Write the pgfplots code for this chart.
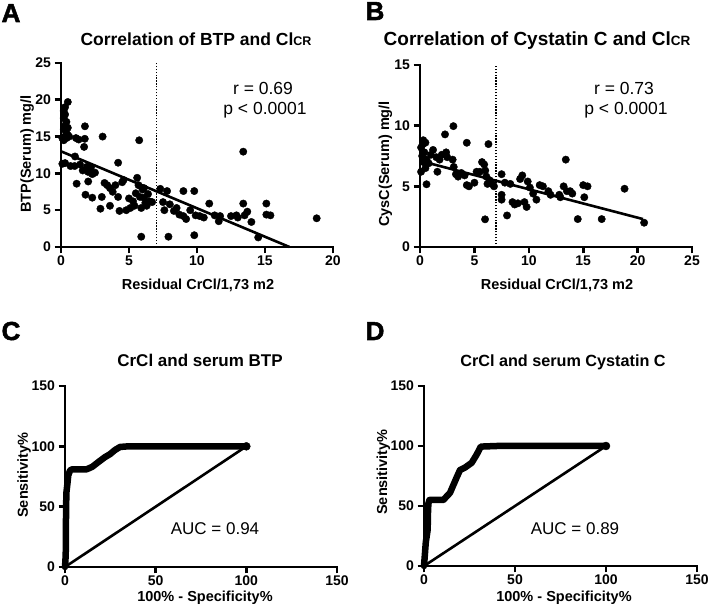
\documentclass[border=0pt]{standalone}
\usepackage{fontspec}
\setmainfont{Liberation Sans}
\newfontfamily\heavy[FakeBold=2]{Liberation Sans Bold}
\usepackage{pgfplots}
\pgfplotsset{compat=1.18}
\pgfplotstableread{
x y
0.5 19.7
0.3 19.0
0.2 18.5
0.3 18.0
0.2 17.5
0.4 17.0
0.3 16.5
0.2 16.0
0.4 15.5
0.5 15.2
0.3 15.0
0.1 14.8
0.6 15.0
0.2 14.5
0.4 14.8
0.5 16.2
0.1 11.3
0.3 11.4
0.7 11.0
1.1 14.8
1.3 14.6
1.76 16.4
1.75 14.7
1.7 13.6
3.06 15.0
5.75 14.5
4.2 11.45
13.4 12.95
1.0 11.0
1.03 12.3
1.4 11.2
1.6 10.4
1.9 10.9
2.0 10.2
2.2 10.8
1.15 8.6
2.0 8.9
2.3 9.9
2.5 10.1
1.8 7.1
2.3 6.7
2.9 5.2
3.0 6.8
3.2 8.7
3.4 8.4
3.6 5.6
3.6 8.0
3.8 7.5
4.0 8.4
4.2 6.8
4.3 4.9
4.5 8.8
4.6 9.1
4.8 5.0
5.0 6.6
5.1 5.3
5.3 6.2
5.4 5.6
5.5 7.3
5.6 9.4
5.7 8.4
5.8 6.8
5.9 5.3
6.0 7.8
6.1 8.0
6.2 6.0
6.3 5.6
6.4 7.2
6.5 6.2
6.7 6.1
5.9 1.4
6.1 6.7
7.3 7.9
7.5 6.1
7.6 5.0
7.8 7.6
7.9 1.4
8.0 5.8
8.3 4.9
8.5 5.3
8.7 4.4
9.0 4.2
9.0 7.6
9.2 3.8
9.5 5.0
9.8 7.6
9.8 1.6
9.9 4.3
10.2 4.2
10.5 4.0
10.9 5.9
11.3 4.3
11.6 3.5
11.7 4.2
12.5 4.2
12.9 4.3
13.0 4.0
13.4 5.9
13.5 4.3
13.7 4.8
14.0 3.4
14.5 1.3
15.1 5.9
15.1 4.4
15.4 4.3
18.8 3.9
}\dataA
\pgfplotstableread{
x y
3.07 9.96
2.3 9.28
4.3 8.59
6.29 8.48
0.3 8.8
0.5 8.6
0.3 8.5
0.1 8.2
0.4 7.8
0.2 7.5
0.6 7.2
0.1 6.2
0.5 6.5
0.6 5.17
0.3 7.0
0.8 6.9
1.0 7.6
1.2 8.0
1.5 7.4
1.6 6.2
1.8 7.2
2.0 7.6
2.4 7.8
2.5 7.4
3.0 7.2
3.1 6.6
3.3 6.0
3.5 5.8
3.8 6.1
4.1 5.9
4.3 5.1
4.5 5.0
5.0 5.3
5.2 6.2
5.5 6.2
5.7 7.0
5.9 6.8
6.0 6.3
6.1 5.8
6.2 5.2
6.4 5.5
6.6 5.2
6.8 5.0
5.98 2.28
7.5 6.0
7.5 4.3
7.5 3.9
7.8 5.3
8.0 2.6
8.3 5.2
8.5 3.7
8.7 3.5
9.0 3.6
9.2 5.6
9.4 5.9
9.6 3.7
9.8 3.3
9.9 5.4
10.1 4.9
10.4 4.4
10.7 3.9
11.0 5.1
11.3 5.0
11.8 4.6
12.0 4.3
12.8 4.3
12.9 4.1
13.2 5.0
13.4 7.2
13.5 4.6
13.8 4.6
14.0 4.4
14.5 2.3
15.0 5.1
15.1 4.1
15.4 5.0
16.7 2.3
18.8 4.8
20.6 2.0
}\dataB
\pgfplotsset{gp/.style={
  scale only axis, axis lines*=left, tick align=outside, clip=false,
  axis line style={line width=2.6pt, line cap=rect},
  every tick/.style={line width=2.6pt, black},
  major tick length=6.5pt,
  ticklabel style={font=\bfseries\fontsize{14}{14}\selectfont},
  /pgf/number format/assume math mode=true,
  xticklabel style={yshift=1pt},
}}
\tikzset{dotv/.style={line width=1.4pt, dash pattern=on 1.3pt off 1.6pt, black}}
\begin{document}
\begin{tikzpicture}[x=1pt,y=1pt]
\useasboundingbox (0,0) rectangle (709,615);
% A
\begin{axis}[gp, at={(61pt,368pt)}, anchor=south west, width=272pt, height=184pt,
  xmin=0, xmax=20, ymin=0, ymax=25, xtick={0,5,...,20}, ytick={0,5,...,25}]
\addplot[only marks, mark=*, mark size=3.7pt, black] table {\dataA};
\addplot[line width=2.6pt, black] coordinates {(0,13) (16.8,0)};
\addplot[dotv] coordinates {(7,0) (7,25)};
\end{axis}
% B
\begin{axis}[gp, at={(420pt,368pt)}, anchor=south west, width=272pt, height=182pt,
  xmin=0, xmax=25, ymin=0, ymax=15, xtick={0,5,...,25}, ytick={0,5,10,15}]
\addplot[only marks, mark=*, mark size=3.7pt, black] table {\dataB};
\addplot[line width=2.6pt, black] coordinates {(0,7.1) (20.5,2.3)};
\addplot[dotv] coordinates {(7,0) (7,15)};
\end{axis}
% C
\begin{axis}[gp, at={(65pt,48pt)}, anchor=south west, width=272pt, height=181pt,
  xmin=0, xmax=150, ymin=0, ymax=150, xtick={0,50,100,150}, ytick={0,50,100,150}]
\addplot[line width=2.6pt, black] coordinates {(0,0) (100,100)};
\addplot[line width=6.5pt, black, line join=round, line cap=round] coordinates {
(0,0) (0.4,10) (0.5,30) (0.6,50) (0.8,62) (1.4,70) (1.8,76) (2.8,80) (4,81) (8,81) (12,81) (15,83) (19.3,88) (22,91) (24.8,93.5) (27.6,97) (30.4,99.5) (35,100) (50,100) (70,100) (90,100) (100,100)};
\addplot[only marks, mark=*, mark size=4pt, black] coordinates {(100,100)};
\end{axis}
% D
\begin{axis}[gp, at={(424pt,49pt)}, anchor=south west, width=273pt, height=180pt,
  xmin=0, xmax=150, ymin=0, ymax=150, xtick={0,50,100,150}, ytick={0,50,100,150}]
\addplot[line width=2.6pt, black] coordinates {(0,0) (100,100)};
\addplot[line width=6.5pt, black, line join=round, line cap=round] coordinates {
(0,0) (0.5,10) (1,20) (2,30) (2.2,45) (2.4,52) (3,55) (6,55) (10.6,55) (14.3,61) (16,67) (18,74) (19.8,80) (22.5,82) (26.2,86) (29,93) (31.2,99.5) (40,100) (60,100) (80,100) (100,100)};
\addplot[only marks, mark=*, mark size=4pt, black] coordinates {(100,100)};
\end{axis}
% texts
\begin{scope}[every node/.style={inner sep=0pt, anchor=base}]
\node[font=\bfseries\fontsize{17.5}{18}\selectfont] at (196,569) {Correlation of BTP and Cl{\fontsize{12.5}{13}\selectfont CR}};
\node[font=\bfseries\fontsize{19}{20}\selectfont] at (537,569) {Correlation of Cystatin C and Cl{\fontsize{13.5}{14}\selectfont CR}};
\node[font=\bfseries\fontsize{17}{17}\selectfont] at (200,248) {CrCl and serum BTP};
\node[font=\bfseries\fontsize{16.2}{17}\selectfont] at (563,248) {CrCl and serum Cystatin C};
\node[font=\heavy\fontsize{26}{26}\selectfont] at (11,593) {A};
\node[font=\heavy\fontsize{26}{26}\selectfont] at (375,595) {B};
\node[font=\heavy\fontsize{26}{26}\selectfont] at (11,275) {C};
\node[font=\heavy\fontsize{26}{26}\selectfont] at (375,275) {D};
\node[font=\fontsize{17.5}{18}\selectfont] at (263,520) {r = 0.69};
\node[font=\fontsize{17.5}{18}\selectfont] at (265,500) {p < 0.0001};
\node[font=\fontsize{17.5}{18}\selectfont] at (624,520) {r = 0.73};
\node[font=\fontsize{17.5}{18}\selectfont] at (626,500) {p < 0.0001};
\node[font=\fontsize{17}{17}\selectfont] at (215,80) {AUC = 0.94};
\node[font=\fontsize{17}{17}\selectfont] at (575,80) {AUC = 0.89};
\node[font=\bfseries\fontsize{14.5}{15}\selectfont] at (198,325) {Residual CrCl/1,73 m2};
\node[font=\bfseries\fontsize{14.5}{15}\selectfont] at (557,325) {Residual CrCl/1,73 m2};
\node[font=\bfseries\fontsize{14.5}{15}\selectfont] at (205,13) {100\% - Specificity\%};
\node[font=\bfseries\fontsize{14.5}{15}\selectfont] at (564,13) {100\% - Specificity\%};
\node[font=\bfseries\fontsize{14.5}{15}\selectfont, rotate=90] at (31,461) {BTP(Serum) mg/l};
\node[font=\bfseries\fontsize{14.5}{15}\selectfont, rotate=90] at (389,451) {CysC(Serum) mg/l};
\node[font=\bfseries\fontsize{14.5}{15}\selectfont, rotate=90] at (28,140) {Sensitivity\%};
\node[font=\bfseries\fontsize{14.5}{15}\selectfont, rotate=90] at (387,143) {Sensitivity\%};
\end{scope}
\end{tikzpicture}
\end{document}
